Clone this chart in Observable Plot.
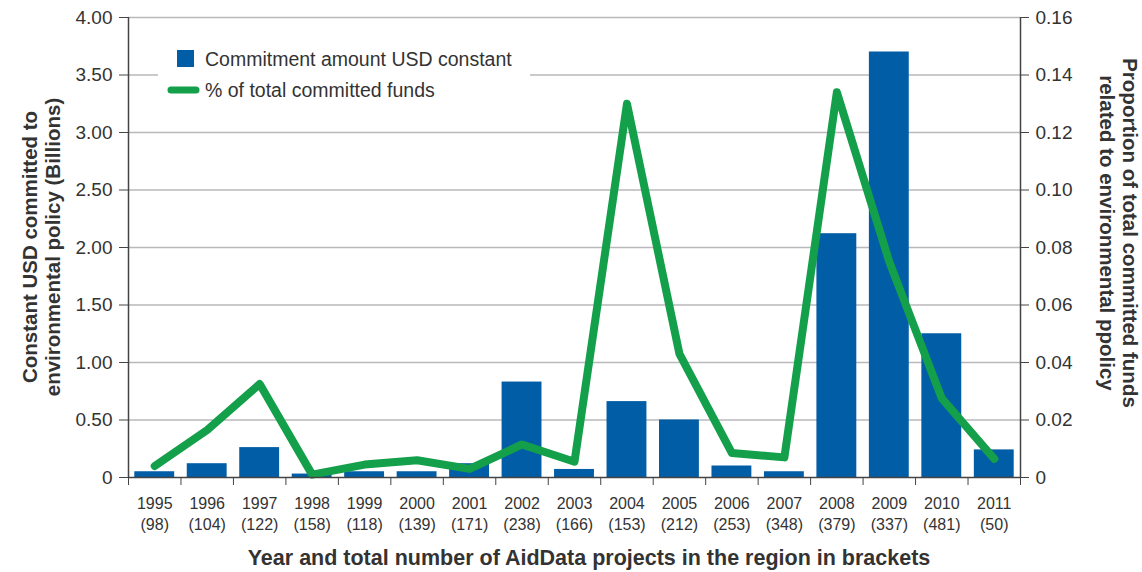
<!DOCTYPE html>
<html>
<head>
<meta charset="utf-8">
<script src="https://cdn.jsdelivr.net/npm/d3@7"></script>
<script src="https://cdn.jsdelivr.net/npm/@observablehq/plot@0.6"></script>
<style>
  html, body { margin: 0; padding: 0; background: #fff; }
  #chart { width: 1142px; height: 572px; }
</style>
</head>
<body>
<div id="chart"></div>
<script>
// ---- data ----
const years = ["1995","1996","1997","1998","1999","2000","2001","2002","2003","2004","2005","2006","2007","2008","2009","2010","2011"];
const projectCounts = [98,104,122,158,118,139,171,238,166,153,212,253,348,379,337,481,50];
const commitmentBillions = [0.05,0.12,0.26,0.03,0.05,0.05,0.12,0.83,0.07,0.66,0.50,0.10,0.05,2.12,3.70,1.25,0.24];
const shareOfTotal = [0.004,0.0165,0.0325,0.001,0.0045,0.006,0.003,0.0115,0.0055,0.130,0.043,0.0085,0.007,0.134,0.075,0.0275,0.0065];
const leftTicks = [0,0.5,1,1.5,2,2.5,3,3.5,4];
const rightTicks = [0,0.02,0.04,0.06,0.08,0.10,0.12,0.14,0.16];
const legendLabels = ["Commitment amount USD constant", "% of total committed funds"];

const BLUE = "#005da6";
const GREEN = "#14a04a";
const FONT = "'Liberation Sans', Arial, Helvetica, sans-serif";

const rows = years.map((y, i) => ({i, year: y, projects: projectCounts[i], amount: commitmentBillions[i], share: shareOfTotal[i]}));
const k = 4 / 0.16; // right axis -> left axis
const half = 0.38;

const fmt = d => d === 0 ? "0" : d.toFixed(2);

const plot = Plot.plot({
  width: 1142,
  height: 572,
  marginLeft: 128,
  marginRight: 122,
  marginTop: 17,
  marginBottom: 95,
  style: {fontFamily: FONT, background: "#fff", color: "#333"},
  x: {domain: [-0.5, years.length - 0.5], axis: null},
  y: {domain: [0, 4], axis: null},
  marks: [
    Plot.ruleY(leftTicks.slice(1), {stroke: "#b9b9bd", strokeWidth: 1.6}),
    Plot.rectY(rows, {x1: d => d.i - half, x2: d => d.i + half, y: "amount", fill: BLUE}),
    Plot.line(rows, {x: "i", y: d => d.share * k, stroke: GREEN, strokeWidth: 8, strokeLinejoin: "round", strokeLinecap: "round"}),
    // axis lines
    Plot.ruleX([-0.5, years.length - 0.5], {stroke: "#444", strokeWidth: 1.5}),
    Plot.ruleY([0], {stroke: "#444", strokeWidth: 1.5}),
    // left axis
    Plot.axisY({anchor: "left", ticks: leftTicks, tickFormat: fmt, tickSize: 9, tickPadding: 7, fontSize: 19, label: null, stroke: "#444", color: "#333"}),
    // right axis (proportion)
    Plot.axisY({anchor: "right", ticks: rightTicks.map(v => v * k), tickFormat: d => fmt(+(d / k).toFixed(2)), tickSize: 8, tickPadding: 7, fontSize: 19, label: null, stroke: "#444", color: "#333"}),
    // x boundary ticks
    Plot.axisX({ticks: d3.range(-0.5, years.length, 1), tickSize: 8, tickFormat: () => "", label: null, stroke: "#444"}),
    // x labels
    Plot.axisX({ticks: d3.range(years.length), tickSize: 0, tickPadding: 17, lineHeight: 1.28, fontSize: 16,
      tickFormat: i => `${years[i]}\n(${projectCounts[i]})`, label: null, color: "#333"})
  ]
});

const svg = d3.select(plot);
// axis titles
const titleStyle = (sel, size) => sel.attr("font-family", FONT).attr("font-size", size).attr("font-weight", "bold").attr("fill", "#333");
const lt = svg.append("text").attr("transform", "translate(30,247) rotate(-90)").attr("text-anchor", "middle").call(titleStyle, 20.5);
lt.append("tspan").attr("x", 0).attr("dy", "0.35em").text("Constant USD committed to");
lt.append("tspan").attr("x", 0).attr("dy", "1.1em").text("environmental policy (Billions)");
const rt = svg.append("text").attr("transform", "translate(1130,233) rotate(90)").attr("text-anchor", "middle").call(titleStyle, 20.5);
rt.append("tspan").attr("x", 0).attr("dy", "0.35em").text("Proportion of total committed funds");
rt.append("tspan").attr("x", 0).attr("dy", "1.1em").text("related to environmental ppolicy");
svg.append("text").attr("x", 589).attr("y", 557).attr("dy", "0.35em").attr("text-anchor", "middle").call(titleStyle, 21.5)
  .text("Year and total number of AidData projects in the region in brackets");

// legend
const lg = svg.append("g");
lg.append("rect").attr("x", 158).attr("y", 40).attr("width", 372).attr("height", 68).attr("fill", "#fff");
lg.append("rect").attr("x", 177).attr("y", 50).attr("width", 17).attr("height", 17).attr("fill", BLUE);
lg.append("line").attr("x1", 171).attr("x2", 196).attr("y1", 90).attr("y2", 90).attr("stroke", GREEN).attr("stroke-width", 7).attr("stroke-linecap", "round");
lg.append("text").attr("x", 205).attr("y", 59).attr("dy", "0.35em").attr("text-anchor", "start").attr("font-family", FONT).attr("font-size", 19.5).attr("fill", "#333").text(legendLabels[0]);
lg.append("text").attr("x", 205).attr("y", 90).attr("dy", "0.35em").attr("text-anchor", "start").attr("font-family", FONT).attr("font-size", 19.5).attr("fill", "#333").text(legendLabels[1]);

document.getElementById("chart").appendChild(plot);
</script>
</body>
</html>
